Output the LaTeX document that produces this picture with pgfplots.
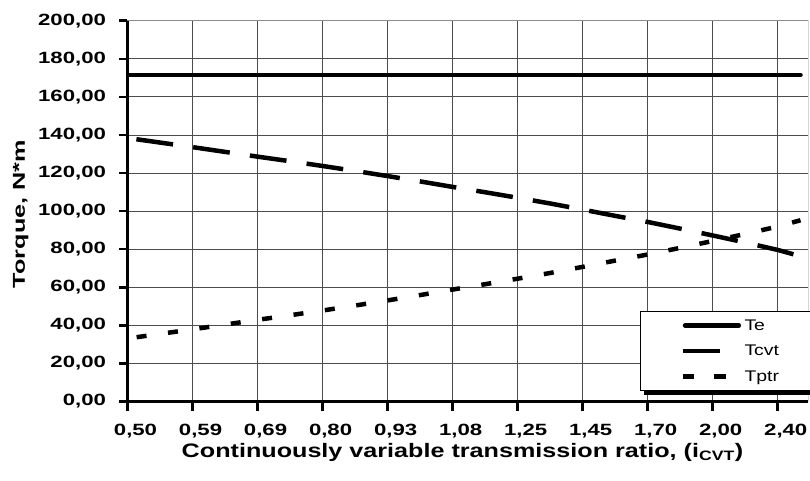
\documentclass[border=0pt]{standalone}
\usepackage{graphicx}
\usepackage{fontspec}
\setmainfont{Liberation Sans}
\newfontfamily\sfont[FakeStretch=1.36]{Liberation Sans}
\newfontfamily\lfont[FakeStretch=1.26]{Liberation Sans}
\usepackage{pgfplots}
\pgfplotsset{compat=1.18}
\usepackage{pgfplotstable}

\pgfplotstableread{
x te tcvt tptr
0 171.5 138.4 33.1
0.5 171.5 136.0 35.5
1 171.5 133.6 37.9
1.5 171.5 131.1 40.4
2 171.5 128.6 42.9
2.5 171.5 126.2 45.3
3 171.5 123.7 47.8
3.5 171.5 121.1 50.4
4 171.5 118.4 53.1
4.5 171.5 115.6 55.9
5 171.5 112.7 58.8
5.5 171.5 109.9 61.6
6 171.5 107.0 64.5
6.5 171.5 104.0 67.5
7 171.5 100.8 70.7
7.5 171.5 97.5 74.0
8 171.5 94.3 77.2
8.5 171.5 90.8 80.7
9 171.5 87.2 84.3
9.5 171.5 83.5 88.0
10 171.5 79.6 91.9
10.35 171.5 76.3 95.2
}\datatable

\begin{document}
\begin{tikzpicture}
\begin{axis}[
  scale only axis,
  width=680.8pt, height=380.8pt,
  xmin=0, xmax=10.47,
  ymin=0, ymax=200,
  axis x line*=bottom, axis y line*=left,
  axis line style={-, black, line width=3pt},
  tick align=outside,
  major tick length=9pt,
  every tick/.style={black, line width=2.5pt},
  xtick={0,1,...,10},
  xticklabels={{0,50},{0,59},{0,69},{0,80},{0,93},{1,08},{1,25},{1,45},{1,70},{2,00},{2,40}},
  ytick={0,20,...,200},
  grid=major,
  major grid style={black!70, line width=0.8pt},
  tick label style={font=\sfont\bfseries\fontsize{16.3}{18}\selectfont},
  xticklabel style={xshift=8pt, yshift=-10.5pt},
  yticklabel style={xshift=-9pt},
  y tick label style={/pgf/number format/.cd, fixed, fixed zerofill, precision=2, use comma, assume math mode=true},
  xlabel={\resizebox{561.6pt}{\height}{\bfseries\fontsize{19.5}{22}\selectfont Continuously variable transmission ratio, (i\textsubscript{CVT})}},
  xlabel style={at={(axis description cs:0.4921,-0.1465)}, anchor=base},
  ylabel={\resizebox{148pt}{\height}{\bfseries\fontsize{17.2}{20}\selectfont Torque, N*m}},
  ylabel style={at={(axis description cs:-0.15056,0.4924)}, anchor=base, rotate=0},
  legend cell align=left,
  legend style={name=leg, at={(0.7528,0.027)}, anchor=south west, draw=black, line width=1pt, fill=white,
    inner xsep=2pt, inner ysep=8pt, row sep=13pt, column sep=0pt,
    font=\lfont\fontsize{15.4}{17}\selectfont,
    nodes={inner xsep=1.5pt, inner ysep=0pt, text height=11pt, text depth=1.5pt, text width=66pt, align=left}},
]
\draw[black!45, line width=1pt] (rel axis cs:0,1) -- (rel axis cs:1,1) -- (rel axis cs:1,0);
\addplot[black, line width=4.5pt, line cap=round,
  legend image code/.code={\path (-38pt,0pt) (58pt,0pt); \draw[solid, black, line width=4.5pt, line cap=round] (2.3pt,0pt) -- (56pt,0pt);}]
  table[x=x, y=te] {\datatable};
\addlegendentry{Te}
\addplot[black, line width=4.5pt, dash pattern=on 37pt off 20.3pt, dash phase=48.3pt,
  legend image code/.code={\path (-38pt,0pt) (58pt,0pt); \draw[solid, black, line width=4.5pt] (0pt,0pt) -- (37pt,0pt);}]
  table[x=x, y=tcvt] {\datatable};
\addlegendentry{Tcvt}
\addplot[black, line width=4.5pt, dash pattern=on 10pt off 21.7pt, dash phase=22.5pt,
  legend image code/.code={\path (-38pt,0pt) (58pt,0pt); \draw[solid, black, line width=4.5pt] (0pt,0pt) -- (11.5pt,0pt); \draw[solid, black, line width=4.5pt] (31.6pt,0pt) -- (43.1pt,0pt);}]
  table[x=x, y=tptr] {\datatable};
\addlegendentry{Tptr}
\end{axis}
\fill[black] ([xshift=3.5pt]leg.south west) rectangle ([xshift=3.5pt,yshift=-3.5pt]leg.south east);
\fill[black] ([yshift=-3.5pt]leg.north east) rectangle ([xshift=3.5pt,yshift=-3.5pt]leg.south east);
\pgfresetboundingbox
\path[use as bounding box] ([xshift=-127.5pt,yshift=-78.5pt]current axis.south west) rectangle ([xshift=1.7pt,yshift=20.7pt]current axis.north east);
\end{tikzpicture}
\end{document}
